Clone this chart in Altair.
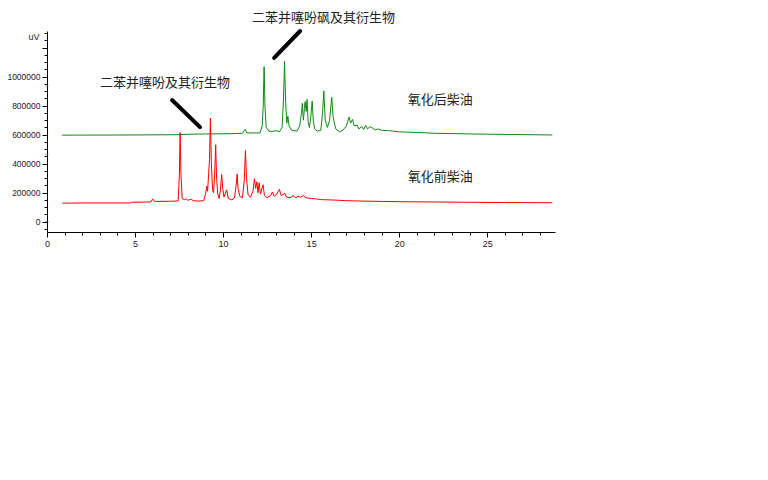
import altair as alt
import pandas as pd

# ---- data ----
red_t = [0.87, 2.0, 4.7, 4.8, 5.9, 6.0, 6.1, 7.0, 7.45, 7.52, 7.56, 7.61, 7.68, 7.8, 7.9, 8.0, 8.2, 8.3,
         8.6, 8.9, 9.02, 9.07, 9.12, 9.18, 9.23, 9.28, 9.33, 9.4, 9.46, 9.52, 9.58, 9.63, 9.7, 9.78,
         9.85, 9.92, 9.98, 10.05, 10.2, 10.3, 10.5, 10.65, 10.75, 10.8, 10.85, 10.95, 11.1, 11.2,
         11.27, 11.33, 11.42, 11.55, 11.7, 11.78, 11.85, 11.92, 11.98, 12.05, 12.12, 12.27, 12.35,
         12.5, 12.7, 12.8, 12.9, 13.05, 13.2, 13.3, 13.5, 13.6, 13.8, 14.0, 14.1, 14.3, 14.4, 14.56,
         14.7, 15.0, 15.3, 15.6, 16.2, 17.0, 18.0, 19.0, 20.0, 22.0, 24.0, 26.0, 28.7]
red_v = [128000, 129000, 129000, 134000, 136000, 157000, 140000, 141000, 143000, 330000, 615000,
         320000, 160000, 152000, 158000, 148000, 155000, 145000, 142000, 145000, 200000, 245000,
         210000, 330000, 430000, 715000, 420000, 220000, 200000, 320000, 530000, 300000, 190000,
         160000, 220000, 325000, 230000, 170000, 220000, 160000, 150000, 165000, 260000, 330000,
         230000, 175000, 165000, 280000, 490000, 300000, 185000, 170000, 210000, 297000, 230000,
         276000, 200000, 268000, 190000, 255000, 180000, 165000, 180000, 205000, 175000, 190000,
         223000, 180000, 196000, 170000, 165000, 180000, 165000, 175000, 168000, 180000, 165000,
         160000, 157000, 152000, 150000, 145000, 142000, 140000, 138000, 136000, 134000, 132000,
         131000]

green_t = [0.85, 5.0, 7.5, 8.0, 9.0, 10.5, 11.1, 11.25, 11.35, 12.1, 12.22, 12.28, 12.33, 12.38,
           12.45, 12.6, 12.8, 13.0, 13.2, 13.35, 13.43, 13.49, 13.55, 13.62, 13.68, 13.75, 13.9,
           14.2, 14.35, 14.45, 14.5, 14.56, 14.62, 14.66, 14.72, 14.77, 14.83, 14.9, 14.98, 15.06,
           15.12, 15.2, 15.35, 15.55, 15.65, 15.72, 15.8, 15.92, 16.05, 16.17, 16.25, 16.4, 16.6,
           16.8, 17.0, 17.16, 17.24, 17.35, 17.45, 17.6, 17.7, 17.88, 17.98, 18.1, 18.2, 18.35,
           18.5, 18.65, 18.8, 19.0, 19.4, 20.0, 21.0, 22.0, 24.0, 26.0, 28.7]
green_v = [597000, 598000, 600000, 603000, 605000, 607000, 610000, 637000, 612000, 612000, 660000,
           795000, 1069000, 790000, 650000, 625000, 622000, 628000, 620000, 650000, 839000, 1108000,
           830000, 680000, 727000, 660000, 630000, 625000, 660000, 750000, 816000, 700000, 780000,
           828000, 760000, 844000, 690000, 650000, 720000, 832000, 700000, 640000, 625000, 630000,
           750000, 902000, 700000, 650000, 700000, 858000, 720000, 640000, 620000, 630000, 660000,
           722000, 680000, 705000, 660000, 667000, 640000, 655000, 635000, 665000, 640000, 655000,
           645000, 632000, 640000, 630000, 628000, 620000, 615000, 610000, 605000, 602000, 598000]

labels_text = ["二苯并噻吩及其衍生物", "二苯并噻吩砜及其衍生物", "氧化后柴油", "氧化前柴油"]
labels_x = [6.7, 15.7, 22.33, 22.33]
labels_y = [957000, 1408000, 839000, 308000]

pointer_x = [7.1, 12.9]
pointer_y = [839000, 1129000]
pointer_x2 = [8.69, 14.375]
pointer_y2 = [652000, 1315000]

marker_y = [936000, 465000, 0]
marker_c = ["#2ca02c", "#ff3030", "#3030ff"]

x_ticks = list(range(0, 29))
y_ticks = list(range(-50000, 1300001, 50000))

# ---- tables ----
df = pd.concat([
    pd.DataFrame({"t": green_t, "v": green_v, "s": "green"}),
    pd.DataFrame({"t": red_t, "v": red_v, "s": "red"}),
])
lab = pd.DataFrame({"text": labels_text, "x": labels_x, "y": labels_y})
ptr = pd.DataFrame({"x": pointer_x, "y": pointer_y, "x2": pointer_x2, "y2": pointer_y2})
mk = pd.DataFrame({"y": marker_y, "c": marker_c, "x": [0, 0, 0]})

xscale = alt.Scale(domain=[0, 28.85], nice=False, zero=False)
yscale = alt.Scale(domain=[-71000, 1315000], nice=False, zero=False)

xaxis = alt.Axis(
    values=x_ticks, title=None, grid=False, labelOverlap=False,
    labelExpr="datum.value % 5 === 0 ? format(datum.value, 'd') : ''",
    tickSize={"condition": {"test": "datum.value % 5 === 0", "value": 5}, "value": 3},
    labelPadding=2, labelFontSize=9, labelFont="Liberation Sans", labelColor="#222",
    domainColor="#000", tickColor="#000", labelFlush=False,
)
yaxis = alt.Axis(
    values=y_ticks, title="uV", titleAngle=0, titleX=-8, titleY=5, titleAlign="right",
    titleBaseline="middle", titleFontSize=9, titleFont="Liberation Sans", titleFontWeight="normal",
    titleColor="#222", grid=False, labelOverlap=False,
    labelExpr="(datum.value % 200000 === 0 && datum.value <= 1000000) ? format(datum.value, 'd') : ''",
    tickSize={"condition": {"test": "datum.value % 200000 === 0", "value": 5}, "value": 3},
    labelPadding=2, labelFontSize=8.5, labelFont="Liberation Sans", labelColor="#222",
    domainColor="#000", tickColor="#000", labelFlush=False,
)

lines = alt.Chart(df).mark_line(strokeWidth=1, clip=True).encode(
    x=alt.X("t:Q", scale=xscale, axis=xaxis),
    y=alt.Y("v:Q", scale=yscale, axis=yaxis),
    color=alt.Color("s:N", scale=alt.Scale(domain=["green", "red"], range=["#118811", "#ff0000"]),
                    legend=None),
    detail="s:N",
)

pointers = alt.Chart(ptr).mark_rule(strokeWidth=4, color="#000", strokeCap="round").encode(
    x=alt.X("x:Q", scale=xscale, axis=xaxis), y=alt.Y("y:Q", scale=yscale, axis=yaxis),
    x2="x2:Q", y2="y2:Q",
)

texts = alt.Chart(lab).mark_text(font="Noto Sans CJK SC", fontSize=13, color="#222",
                                 align="center", baseline="middle").encode(
    x=alt.X("x:Q", scale=xscale, axis=xaxis), y=alt.Y("y:Q", scale=yscale, axis=yaxis),
    text="text:N",
)

markers = alt.Chart(mk).mark_tick(orient="horizontal", size=3, thickness=1).encode(
    x=alt.X("x:Q", scale=xscale, axis=xaxis), y=alt.Y("y:Q", scale=yscale, axis=yaxis),
    color=alt.Color("c:N", scale=None),
)

chart = alt.layer(lines, markers, pointers, texts).properties(
    width=508, height=201,
    autosize=alt.AutoSizeParams(type="none"),
    padding={"left": 39, "top": 23, "right": 205, "bottom": 240},
    background="white",
).configure_view(stroke=None)

chart.save("out.html", embed_options={"renderer": "svg", "actions": False})
